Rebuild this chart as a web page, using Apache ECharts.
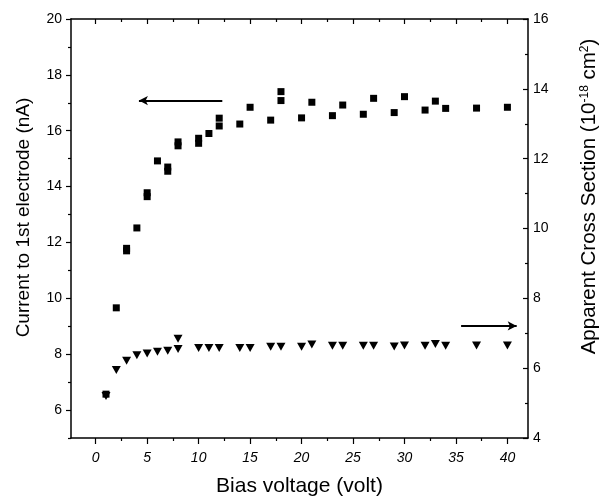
<!DOCTYPE html>
<html>
<head>
<meta charset="utf-8">
<script src="https://cdn.jsdelivr.net/npm/echarts@6/dist/echarts.min.js"></script>
<style>
  html, body { margin: 0; padding: 0; background: #fff; }
  #chart { width: 601px; height: 500px; }
</style>
</head>
<body>
<div id="chart"></div>
<script>
// squares: current to 1st electrode (left axis)
var squareBias = [1, 2, 3, 3, 4, 5, 5, 6, 7, 7, 8, 8, 10, 10, 11, 12, 12, 14, 15, 17, 18, 18,
                  20, 21, 23, 24, 26, 27, 29, 30, 32, 33, 34, 37, 40];
var squareCurrent = [6.57, 9.66, 11.79, 11.7, 12.52, 13.78, 13.64, 14.92, 14.7, 14.55, 15.6, 15.46,
                     15.73, 15.55, 15.9, 16.45, 16.17, 16.24, 16.84, 16.38, 17.4, 17.08,
                     16.46, 17.02, 16.54, 16.92, 16.59, 17.16, 16.65, 17.22, 16.74, 17.06, 16.8, 16.81, 16.84];

// triangles: apparent cross section (right axis)
var triBias = [1, 2, 3, 4, 5, 6, 7, 8, 8, 10, 11, 12, 14, 15, 17, 18, 20, 21,
               23, 24, 26, 27, 29, 30, 32, 33, 34, 37, 40];
var triCross = [5.2, 5.95, 6.21, 6.37, 6.42, 6.47, 6.5, 6.84, 6.55, 6.58, 6.58, 6.58, 6.58, 6.58, 6.61, 6.61, 6.61, 6.68,
                6.64, 6.64, 6.64, 6.64, 6.62, 6.65, 6.64, 6.69, 6.64, 6.65, 6.65];

// ticks
var xMajor = [0, 5, 10, 15, 20, 25, 30, 35, 40];
var xMinor = [2.5, 7.5, 12.5, 17.5, 22.5, 27.5, 32.5, 37.5];
var yLeftMajor = [6, 8, 10, 12, 14, 16, 18, 20];
var yLeftMinor = [5, 7, 9, 11, 13, 15, 17, 19];
var yRightMajor = [4, 6, 8, 10, 12, 14, 16];
var yRightMinor = [5, 7, 9, 11, 13, 15];

// arrows [x from, x to, y]
var leftArrow = [12.3, 4.2, 17.08];
var rightArrow = [35.5, 40.9, 7.21];

var ink = '#000';
var font = 'Liberation Sans, Arial, sans-serif';
var box = { left: 71, right: 73, top: 19, bottom: 62, outerBoundsMode: 'none', containLabel: false };

function pair(xs, ys) {
    var out = [];
    for (var i = 0; i < xs.length; i++) out.push([xs[i], ys[i]]);
    return out;
}

// axis that only draws ticks (and maybe its line)
function tickAxis(grid, pos, min, max, vals, len, inside, showLine) {
    return {
        type: 'value', gridIndex: grid, position: pos, min: min, max: max,
        axisLine: { show: showLine, onZero: false, lineStyle: { color: ink, width: 1.5 } },
        axisTick: { show: true, inside: inside, length: len, customValues: vals, lineStyle: { color: ink, width: 1.2 } },
        axisLabel: { show: false },
        splitLine: { show: false }
    };
}

var myChart = echarts.init(document.getElementById('chart'));

var option = {
    animation: false,
    backgroundColor: '#fff',
    grid: [box, box],
    xAxis: [{
        type: 'value', gridIndex: 0, position: 'bottom', min: -2.4, max: 42,
        name: 'Bias voltage (volt)', nameLocation: 'middle', nameGap: 38,
        nameTextStyle: { fontFamily: font, fontSize: 21, color: ink },
        axisLine: { onZero: false, lineStyle: { color: ink, width: 1.5 } },
        axisTick: { inside: false, length: 6, customValues: xMajor, lineStyle: { color: ink, width: 1.2 } },
        axisLabel: { customValues: xMajor, fontFamily: font, fontSize: 14, fontStyle: 'italic', color: ink, margin: 13 },
        splitLine: { show: false }
    },
        tickAxis(0, 'top', -2.4, 42, xMajor, 5, true, true),
        tickAxis(1, 'bottom', -2.4, 42, xMinor, 3, false, false),
        tickAxis(1, 'top', -2.4, 42, xMinor, 3, true, false)
    ],
    yAxis: [{
        type: 'value', gridIndex: 0, position: 'left', min: 5, max: 20,
        name: 'Current to 1st electrode (nA)', nameLocation: 'middle', nameGap: 38,
        nameTextStyle: { fontFamily: font, fontSize: 19, color: ink, padding: [0, 0, 0, 22] },
        axisLine: { onZero: false, lineStyle: { color: ink, width: 1.5 } },
        axisTick: { inside: false, length: 5, customValues: yLeftMajor, lineStyle: { color: ink, width: 1.2 } },
        axisLabel: { customValues: yLeftMajor, fontFamily: font, fontSize: 14, color: ink, margin: 9 },
        splitLine: { show: false }
    }, {
        type: 'value', gridIndex: 0, position: 'right', min: 4, max: 16,
        name: 'Apparent Cross Section (10{sup|-18} cm{sup|2})', nameLocation: 'middle', nameGap: 51,
        nameTextStyle: {
            fontFamily: font, fontSize: 20.5, color: ink, padding: [0, 0, 0, 64],
            rich: { sup: { fontFamily: font, fontSize: 12, color: ink, verticalAlign: 'top' } }
        },
        axisLine: { onZero: false, lineStyle: { color: ink, width: 1.5 } },
        axisTick: { inside: true, length: 5, customValues: yRightMajor, lineStyle: { color: ink, width: 1.2 } },
        axisLabel: { customValues: yRightMajor, fontFamily: font, fontSize: 14, color: ink, margin: 5 },
        splitLine: { show: false }
    },
        tickAxis(1, 'left', 5, 20, yLeftMinor, 3, false, false),
        tickAxis(1, 'right', 4, 16, yRightMinor, 3, true, false)
    ],
    series: [{
        name: 'current',
        type: 'scatter',
        xAxisIndex: 0, yAxisIndex: 0,
        symbol: 'rect', symbolSize: 7,
        itemStyle: { color: ink, opacity: 1 },
        data: pair(squareBias, squareCurrent),
        markLine: {
            silent: true, symbol: ['none', 'arrow'], symbolSize: [7, 9],
            label: { show: false },
            lineStyle: { color: ink, width: 2, type: 'solid', opacity: 1 },
            data: [[{ coord: [leftArrow[0], leftArrow[2]] }, { coord: [leftArrow[1], leftArrow[2]] }]]
        }
    }, {
        name: 'cross section',
        type: 'scatter',
        xAxisIndex: 0, yAxisIndex: 1,
        symbol: 'triangle', symbolRotate: 180, symbolSize: [9, 8],
        itemStyle: { color: ink, opacity: 1 },
        data: pair(triBias, triCross),
        markLine: {
            silent: true, symbol: ['none', 'arrow'], symbolSize: [7, 9],
            label: { show: false },
            lineStyle: { color: ink, width: 2, type: 'solid', opacity: 1 },
            data: [[{ coord: [rightArrow[0], rightArrow[2]] }, { coord: [rightArrow[1], rightArrow[2]] }]]
        }
    }]
};

myChart.setOption(option);
</script>
</body>
</html>
